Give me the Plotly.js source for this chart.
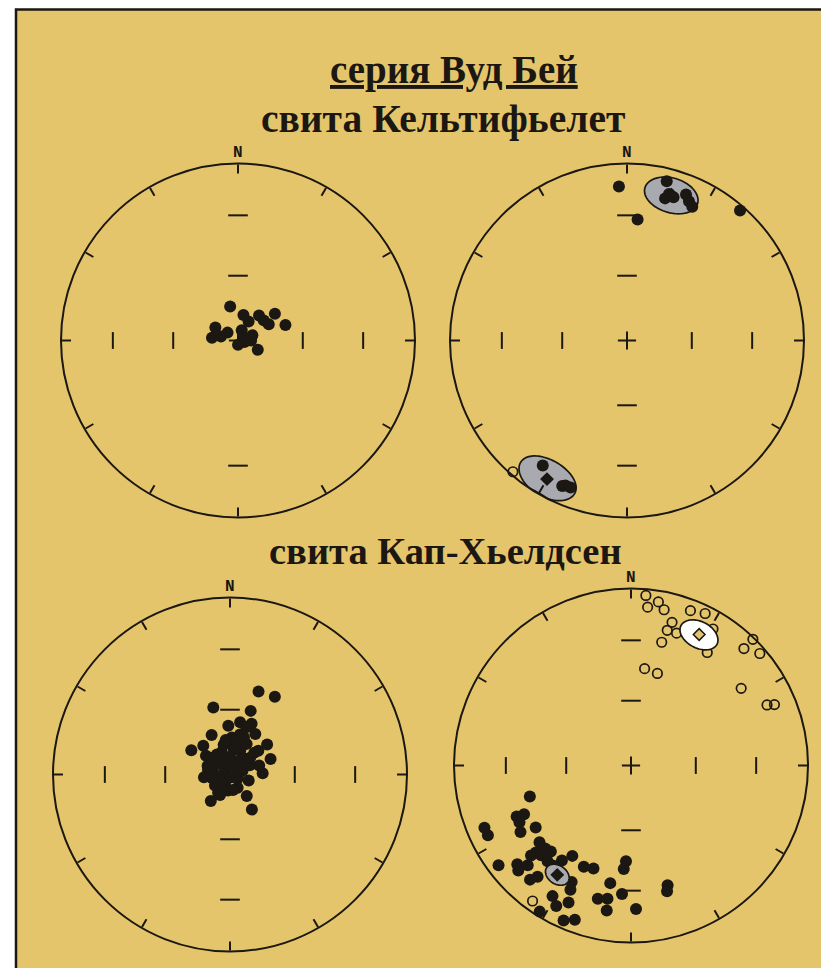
<!DOCTYPE html>
<html>
<head>
<meta charset="utf-8">
<script src="https://cdn.plot.ly/plotly-3.0.1.min.js"></script>
<style>
  html, body { margin: 0; padding: 0; background: #ffffff; }
  #chart { width: 821px; height: 968px; }
</style>
</head>
<body>
<div id="chart"></div>
<script>
// Palaeomagnetic directions, equal-area stereonets (declination / inclination, degrees).
// Positive inclination = lower hemisphere (filled), negative = upper hemisphere (open).

// свита Кельтифьелет, before cleaning
const decTL = [347, 12, 40, 54, 72, 62, 52, 29, 300, 307, 283, 276, 20, 70, 72, 90, 115, 104, 180];
const incTL = [74, 78, 75, 69, 67, 74, 75, 80, 78, 84, 82, 78, 85, 83, 87, 84, 80, 87, 88];

// свита Кельтифьелет, characteristic components
const decTR = [357, 5, 14, 15, 16, 18, 22, 24, 26, 41, 214, 204, 201, 203, 221];
const incTR = [14, 32, 8, 18, 15, 16, 12, 15, 17, 3, 16, 11, 12, 12, -2];
const meanDecTR = [17, 210];
const meanIncTR = [15, 10.5];
const a95TR = [10, 11];

// свита Кап-Хьелдсен, before cleaning
const decBL = [19, 30, 346, 18, 11, 23, 358, 32, 335, 51, 302, 317, 69, 88, 264, 213, 216, 142, 148, 114, 208,
               327, 348, 3, 14, 19, 317, 0, 23, 28.5, 283, 309, 32, 44, 48, 255, 148, 73, 50,
               291, 234, 150, 108, 73, 6, 308, 344, 10.6, 311, 65, 187,
               340, 9, 309.5, 348, 35, 259, 235.5, 169, 353, 20.5, 43, 50.5, 281.6, 206];
const incBL = [49, 48, 58, 59, 65.5, 64.5, 67.5, 68, 70, 68, 69, 72, 70, 75, 78, 80, 75, 77.5, 71, 86, 85,
               79, 76, 73, 71, 67, 83, 82, 78, 74, 82, 87, 84, 80, 75, 85, 88.5, 84, 73,
               79, 81.5, 83, 81, 76, 77, 76, 83.5, 75, 80, 80, 82.6,
               79, 78.6, 78, 85.6, 82, 81.6, 85.6, 82.8, 74, 71.7, 86, 78, 79.7, 79.6];

// свита Кап-Хьелдсен, characteristic components
const decBR = [253, 246, 245.5, 243, 239, 237, 247, 244, 233, 229, 227, 226, 230, 227.5, 223, 225, 221, 216, 213, 221.5,
               220, 207, 206, 205, 200, 190, 183, 184, 184, 194, 190, 189.5, 178, 163, 164, 211, 208, 204.5, 212, 203.5,
               200, 218, 228, 226,
               5, 6, 9.5, 12, 21, 26, 16, 15, 19, 14, 8, 16, 34, 31, 44, 44, 49, 55, 66, 67, 216];
const incBR = [40, 30, 34, 30, 28, 36, 11, 11, 7, 16, 14, 20, 33, 28, 34, 29, 29, 34, 39, 15,
               19, 27, 23, 37, 38, 33, 45, 41, 28, 23.5, 24.5, 18, 20, 30, 27, 15, 11, 16, 3, 5,
               8, 29, 25, 33,
               -4, -11, -7, -11, -7, -5, -17, -22, -22, -29, -44, -45, -24, -11, -1, -9, -4, -25, -17, -13, -6];
const meanDecBR = [27.5, 214];
const meanIncBR = [-17.7, 26.4];
const a95BR = [7.5, 5];

// Inclination marks along the N-S and E-W diameters
const markInc = [60, 30];

const titleTop = 'серия Вуд Бей';
const titleUpper = 'свита Кельтифьелет';
const titleLower = 'свита Кап-Хьелдсен';

// ---------------------------------------------------------------
const W = 821, H = 968, R = 177;
const INK = '#1b1712';
const BG = '#E5C56B';
const GREY = '#A9A9B0';

// Schmidt (equal-area) radius for a given inclination
const eaR = inc => Math.SQRT2 * Math.sin((90 - Math.abs(inc)) * Math.PI / 360);

// Small circle of radius a95 around a mean direction
function cone(dec, inc, a95, n = 90) {
  const k = Math.PI / 180;
  const D = dec * k, I = inc * k, A = a95 * k;
  const m = [Math.cos(I) * Math.cos(D), Math.cos(I) * Math.sin(D), Math.sin(I)];
  const u = [-Math.sin(I) * Math.cos(D), -Math.sin(I) * Math.sin(D), Math.cos(I)];
  const v = [-Math.sin(D), Math.cos(D), 0];
  const r = [], t = [];
  for (let j = 0; j <= n; j++) {
    const f = 2 * Math.PI * j / n;
    const p = [0, 1, 2].map(i => Math.cos(A) * m[i] + Math.sin(A) * (Math.cos(f) * u[i] + Math.sin(f) * v[i]));
    const di = Math.atan2(p[1], p[0]) / k;
    const ii = Math.asin(Math.max(-1, Math.min(1, p[2]))) / k;
    r.push(eaR(ii));
    t.push((di + 360) % 360);
  }
  return {r, t};
}

const panels = [
  {id: 'polar',  cx: 238, cy: 340.5, dec: decTL, inc: incTL, skipS60: true},
  {id: 'polar2', cx: 627, cy: 340.5, dec: decTR, inc: incTR,
   mDec: meanDecTR, mInc: meanIncTR, a95: a95TR, conesFirst: true},
  {id: 'polar3', cx: 230, cy: 774.5, dec: decBL, inc: incBL},
  {id: 'polar4', cx: 631, cy: 765.5, dec: decBR, inc: incBR,
   mDec: meanDecBR, mInc: meanIncBR, a95: a95BR, conesFirst: false}
];

const traces = [];
const layout = {
  width: W, height: H,
  margin: {l: 0, r: 0, t: 0, b: 0},
  paper_bgcolor: '#ffffff',
  showlegend: false,
  shapes: [{
    type: 'rect', xref: 'paper', yref: 'paper', layer: 'below',
    x0: 16 / W, x1: 1.05, y0: -0.05, y1: 1 - 9.5 / H,
    line: {color: INK, width: 2.5}, fillcolor: BG
  }],
  annotations: []
};

function base(sub) {
  return {type: 'scatterpolar', subplot: sub, hoverinfo: 'skip', cliponaxis: false, showlegend: false};
}

panels.forEach(p => {
  layout[p.id] = {
    domain: {x: [(p.cx - R) / W, (p.cx + R) / W], y: [1 - (p.cy + R) / H, 1 - (p.cy - R) / H]},
    bgcolor: 'rgba(0,0,0,0)',
    radialaxis: {range: [0, 1], visible: false, showgrid: false},
    angularaxis: {
      rotation: 90, direction: 'clockwise',
      showline: true, linecolor: INK, linewidth: 2,
      ticks: 'inside', ticklen: 9, tickwidth: 2, tickcolor: INK,
      tickmode: 'linear', tick0: 0, dtick: 30,
      showticklabels: false, showgrid: false
    }
  };

  // net marks: dashes on N-S, bars on E-W, centre cross
  const nsR = [], nsT = [];
  markInc.forEach(i => {
    nsR.push(eaR(i)); nsT.push(0);
    if (!(p.skipS60 && i === 60)) { nsR.push(eaR(i)); nsT.push(180); }
  });
  traces.push(Object.assign(base(p.id), {
    r: nsR, theta: nsT, mode: 'markers',
    marker: {symbol: 'line-ew', size: 14, color: INK, line: {color: INK, width: 2}}
  }));
  const ewR = [], ewT = [];
  markInc.forEach(i => { ewR.push(eaR(i), eaR(i)); ewT.push(90, 270); });
  traces.push(Object.assign(base(p.id), {
    r: ewR, theta: ewT, mode: 'markers',
    marker: {symbol: 'line-ns', size: 12, color: INK, line: {color: INK, width: 2}}
  }));
  traces.push(Object.assign(base(p.id), {
    r: [0], theta: [0], mode: 'markers',
    marker: {symbol: 'cross-thin', size: 13, color: INK, line: {color: INK, width: 2}}
  }));

  const addCones = () => {
    if (!p.mDec) return;
    p.mDec.forEach((d, j) => {
      const c = cone(d, p.mInc[j], p.a95[j]);
      const upper = p.mInc[j] < 0;
      traces.push(Object.assign(base(p.id), {
        r: c.r, theta: c.t, mode: 'lines', fill: 'toself',
        fillcolor: upper ? '#ffffff' : GREY,
        line: {color: INK, width: 1.7}
      }));
      traces.push(Object.assign(base(p.id), {
        r: [eaR(p.mInc[j])], theta: [d], mode: 'markers',
        marker: {symbol: 'diamond', size: 9, color: upper ? BG : INK, line: {color: INK, width: 1.5}}
      }));
    });
  };

  const addPoints = () => {
    const dn = {r: [], t: []}, up = {r: [], t: []};
    p.dec.forEach((d, j) => {
      const tgt = p.inc[j] >= 0 ? dn : up;
      tgt.r.push(eaR(p.inc[j])); tgt.t.push(d);
    });
    if (up.r.length) traces.push(Object.assign(base(p.id), {
      r: up.r, theta: up.t, mode: 'markers',
      marker: {symbol: 'circle-open', size: 9.5, color: INK, line: {color: INK, width: 1.7}}
    }));
    traces.push(Object.assign(base(p.id), {
      r: dn.r, theta: dn.t, mode: 'markers',
      marker: {symbol: 'circle', size: 12, color: INK, line: {width: 0}}
    }));
  };

  if (p.conesFirst) { addCones(); addPoints(); } else { addPoints(); addCones(); }

  layout.annotations.push({
    xref: 'paper', yref: 'paper', x: p.cx / W, y: 1 - (p.cy - R - 11) / H,
    xanchor: 'center', yanchor: 'middle', showarrow: false, text: 'N',
    font: {family: 'Liberation Mono', size: 16, color: INK, weight: 'bold'}
  });
});

const titles = [
  {text: '<u>' + titleTop + '</u>', x: 454, y: 70, size: 39},
  {text: titleUpper, x: 443, y: 119, size: 39.5},
  {text: titleLower, x: 445, y: 551, size: 38.5}
];
titles.forEach(t => layout.annotations.push({
  xref: 'paper', yref: 'paper', x: t.x / W, y: 1 - t.y / H,
  xanchor: 'center', yanchor: 'middle', showarrow: false, text: t.text,
  font: {family: 'Liberation Serif', size: t.size, color: INK, weight: 'bold'}
}));

Plotly.newPlot('chart', traces, layout, {staticPlot: true, displayModeBar: false});
</script>
</body>
</html>
